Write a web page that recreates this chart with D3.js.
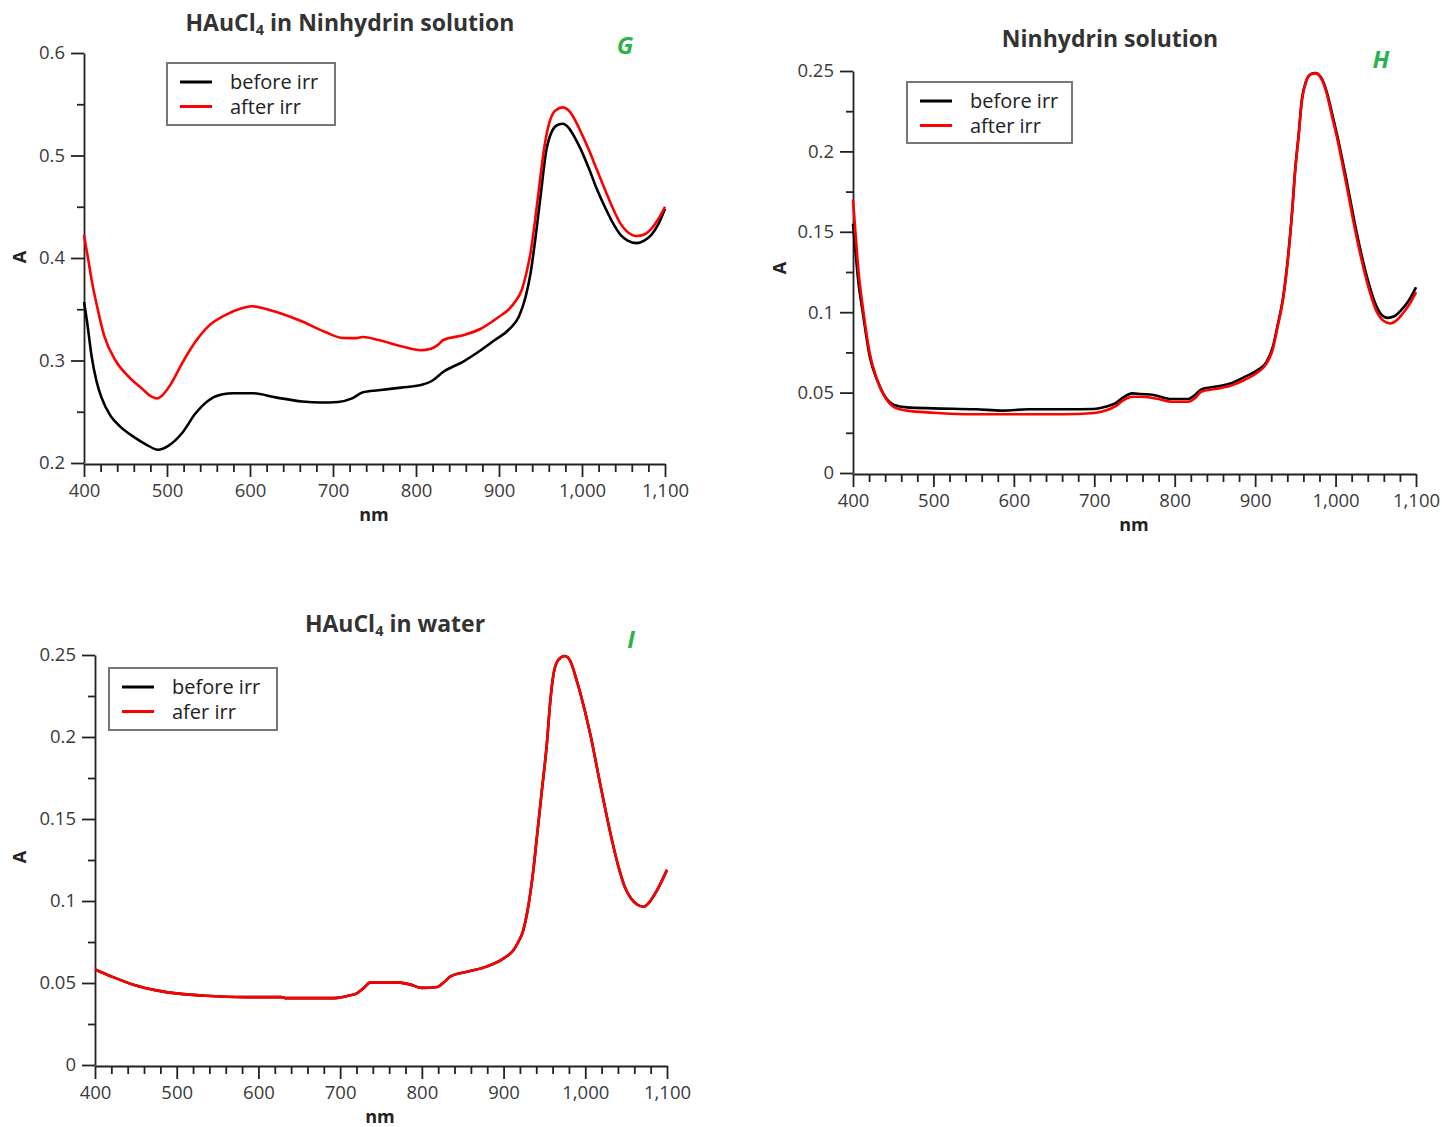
<!DOCTYPE html>
<html>
<head>
<meta charset="utf-8">
<script src="https://cdn.jsdelivr.net/npm/d3@7"></script>
<style>
  html, body { margin: 0; padding: 0; background: #fff; }
  svg { display: block; font-family: "Open Sans", "Noto Sans", sans-serif; }
  .tick text { fill: #3a3a3a; }
</style>
</head>
<body>
<svg id="chart" width="1442" height="1127"></svg>
<script>
// Absorbance spectra, [wavelength nm, absorbance A]

// G: HAuCl4 in ninhydrin solution
const ninAuBefore = [
  [400,0.357],[404,0.336],[409,0.305],[415,0.280],[421,0.264],[432,0.246],[443,0.236],[459,0.226],
  [475,0.218],[489,0.213],[502,0.217],[518,0.229],[534,0.248],[550,0.261],[567,0.267],
  [580,0.268],[604,0.268],[631,0.264],[663,0.260],[685,0.259],[706,0.2595],[723,0.263],
  [736,0.269],[755,0.271],[782,0.2735],[806,0.276],[819,0.280],[833,0.289],[857,0.299],
  [878,0.310],[895,0.320],[913,0.331],[924,0.343],[932,0.362],[938,0.385],[944,0.420],
  [950,0.460],[957,0.505],[964,0.524],[971,0.530],[977,0.531],[984,0.527],[991,0.518],
  [998,0.507],[1008,0.488],[1018,0.467],[1028,0.449],[1038,0.433],[1047,0.422],
  [1055,0.417],[1066,0.4145],[1075,0.417],[1083,0.422],[1092,0.433],[1100,0.448]
];
const ninAuAfter = [
  [400,0.4225],[405,0.399],[410,0.375],[416,0.352],[424,0.325],[438,0.300],[454,0.284],[470,0.2725],
  [482,0.2645],[488,0.263],[493,0.265],[505,0.2775],[518,0.297],[534,0.318],[550,0.3335],
  [572,0.345],[590,0.351],[602,0.353],[616,0.351],[631,0.3475],[663,0.338],[690,0.328],
  [712,0.322],[728,0.3218],[736,0.323],[755,0.320],[782,0.314],[806,0.310],[818,0.3115],
  [826,0.315],[833,0.320],[857,0.3247],[878,0.331],[900,0.3427],[912,0.350],[920,0.358],
  [927,0.368],[932,0.382],[938,0.405],[944,0.440],[950,0.480],[955,0.510],[961,0.533],
  [968,0.544],[977,0.547],[985,0.543],[992,0.534],[998,0.524],[1008,0.506],[1018,0.486],
  [1028,0.466],[1038,0.447],[1046,0.434],[1054,0.426],[1066,0.4215],[1075,0.423],
  [1083,0.428],[1092,0.438],[1100,0.450]
];

// H: ninhydrin solution
const ninBefore = [
  [400,0.155],[403,0.138],[406,0.122],[413,0.097],[421,0.072],[430,0.0578],[440,0.0474],
  [451,0.0423],[467,0.0408],[500,0.0402],[553,0.0396],[586,0.0388],[618,0.0396],
  [661,0.0396],[699,0.0398],[715,0.0413],[726,0.0433],[737,0.0474],[747,0.0495],
  [758,0.0491],[774,0.0485],[796,0.046],[817,0.046],[825,0.0485],[833,0.052],[850,0.0536],
  [871,0.056],[887,0.0598],[903,0.064],[914,0.069],[922,0.0784],[928,0.092],[935,0.110],
  [941,0.135],[946,0.163],[950,0.190],[954,0.210],[958,0.232],[963,0.243],[969,0.248],
  [975,0.2488],[982,0.246],[989,0.237],[995,0.225],[1002,0.210],[1014,0.181],
  [1026,0.150],[1039,0.122],[1051,0.1035],[1058,0.098],[1065,0.0965],[1073,0.0975],
  [1081,0.101],[1090,0.1065],[1100,0.1155]
];
const ninAfter = [
  [400,0.170],[403,0.150],[406,0.130],[413,0.100],[421,0.074],[430,0.058],[440,0.047],
  [451,0.041],[467,0.0388],[500,0.0375],[550,0.0365],[600,0.0365],[660,0.0365],
  [700,0.0373],[715,0.039],[726,0.0415],[737,0.0455],[747,0.0474],[760,0.0474],
  [780,0.046],[796,0.0443],[817,0.0443],[825,0.0465],[833,0.0505],[850,0.0522],
  [871,0.0545],[887,0.058],[903,0.0625],[914,0.068],[922,0.077],[928,0.091],[935,0.109],
  [941,0.134],[946,0.162],[950,0.189],[954,0.209],[958,0.231],[963,0.243],[969,0.2478],
  [975,0.2485],[982,0.2455],[989,0.236],[995,0.223],[1002,0.208],[1014,0.178],
  [1026,0.147],[1039,0.119],[1051,0.1005],[1060,0.0945],[1068,0.093],[1076,0.095],
  [1084,0.0995],[1092,0.105],[1100,0.1125]
];

// I: HAuCl4 in water (both spectra coincide)
const waterAfter = [
  [400,0.0582],[420,0.054],[447,0.049],[475,0.0455],[502,0.0435],[535,0.0422],
  [584,0.0414],[628,0.0414],[633,0.0408],[693,0.0408],[710,0.0422],[721,0.0439],
  [729,0.047],[737,0.0504],[770,0.0504],[786,0.049],[800,0.047],[819,0.0476],
  [827,0.0504],[835,0.054],[857,0.057],[879,0.060],[901,0.0653],[912,0.070],[918,0.075],
  [924,0.082],[930,0.096],[936,0.117],[941,0.140],[947,0.168],[953,0.196],[957,0.221],
  [961,0.238],[967,0.247],[975,0.2494],[982,0.246],[988,0.237],[994,0.2266],[1006,0.202],
  [1018,0.172],[1030,0.143],[1040,0.122],[1048,0.109],[1056,0.1015],[1063,0.098],
  [1071,0.0965],[1078,0.099],[1088,0.1067],[1100,0.119]
];
const waterBefore = waterAfter;

const xMajorTicks = d3.range(400, 1101, 100);
const xMinorTicks = d3.range(400, 1101, 20).filter(v => v % 100 !== 0);
const yTicksG = [0.2, 0.3, 0.4, 0.5, 0.6];
const yMinorG = [0.25, 0.35, 0.45, 0.55];
const yTicksHI = [0, 0.05, 0.1, 0.15, 0.2, 0.25];
const yMinorHI = [0.025, 0.075, 0.125, 0.175, 0.225];

const svg = d3.select("#chart");

function panel(cfg) {
  const x = d3.scaleLinear().domain([400, 1100]).range([cfg.x0, cfg.x1]);
  const y = d3.scaleLinear().domain(cfg.yDomain).range([cfg.y0, cfg.y1]);
  const g = svg.append("g");

  // y axis
  const yAxis = g.append("g").attr("transform", `translate(${cfg.x0},0)`);
  yAxis.call(d3.axisLeft(y).tickValues(cfg.yTicks).tickSize(13).tickSizeOuter(0)
    .tickPadding(6).tickFormat(d3.format("")));
  yAxis.append("g").call(d3.axisLeft(y).tickValues(cfg.yMinor).tickSize(7).tickFormat(""))
    .select(".domain").remove();

  // x axis
  const xAxis = g.append("g").attr("transform", `translate(0,${cfg.y0 + 1})`);
  xAxis.call(d3.axisBottom(x).tickValues(xMajorTicks).tickSize(13).tickSizeOuter(0)
    .tickPadding(7).tickFormat(d3.format(",")));
  xAxis.append("g").call(d3.axisBottom(x).tickValues(xMinorTicks).tickSize(8).tickFormat(""))
    .select(".domain").remove();

  g.selectAll(".domain, .tick line").attr("stroke", "#222").attr("stroke-width", 1.8);
  g.selectAll(".tick text").attr("font-size", 18.5).attr("fill", "#3a3a3a")
    .attr("font-family", "'Open Sans', 'Noto Sans', sans-serif");

  // spectra
  const line = d3.line().x(d => x(d[0])).y(d => y(d[1])).curve(d3.curveMonotoneX);
  cfg.series.forEach(s => {
    g.append("path").datum(s.data).attr("d", line)
      .attr("fill", "none").attr("stroke", s.color).attr("stroke-width", 2.6)
      .attr("stroke-linejoin", "round");
  });

  // title
  const t = g.append("text").attr("x", cfg.titleX).attr("y", cfg.titleY)
    .attr("text-anchor", "middle").attr("font-size", 23).attr("font-weight", "bold")
    .attr("fill", "#333");
  cfg.title.forEach(part => {
    const ts = t.append("tspan").text(part.text);
    if (part.sub) ts.attr("font-size", 14.5).attr("dy", 4);
    else if (part.after) ts.attr("dy", -4);
  });

  // panel letter
  g.append("text").attr("x", cfg.letterX).attr("y", cfg.letterY)
    .attr("font-size", 24).attr("font-weight", "bold").attr("font-style", "italic")
    .attr("fill", "#2bb24c").attr("text-anchor", "middle").text(cfg.letter);

  // axis titles
  g.append("text").attr("transform", `translate(${cfg.aX},${cfg.aY}) rotate(-90)`)
    .attr("text-anchor", "middle").attr("dy", "0.35em").attr("font-size", 18)
    .attr("font-weight", "bold").attr("fill", "#222").text("A");
  g.append("text").attr("x", cfg.nmX).attr("y", cfg.nmY).attr("text-anchor", "middle")
    .attr("dy", "0.35em").attr("font-size", 18).attr("font-weight", "bold")
    .attr("fill", "#222").text("nm");

  // legend
  const L = cfg.legend;
  const lg = g.append("g").attr("transform", `translate(${L.x},${L.y})`);
  lg.append("rect").attr("width", L.w).attr("height", L.h).attr("fill", "#fff")
    .attr("stroke", "#777").attr("stroke-width", 2);
  L.items.forEach((it, i) => {
    const yy = 19 + i * 24.5;
    lg.append("line").attr("x1", 13).attr("x2", 45).attr("y1", yy).attr("y2", yy)
      .attr("stroke", it.color).attr("stroke-width", 3);
    lg.append("text").attr("x", 63).attr("y", yy).attr("dy", "0.35em")
      .attr("font-size", 20).attr("fill", "#222").text(it.label);
  });
}

panel({
  x0: 84, x1: 665, y0: 463, y1: 53, yDomain: [0.2, 0.6],
  yTicks: yTicksG, yMinor: yMinorG,
  series: [{data: ninAuBefore, color: "#000"}, {data: ninAuAfter, color: "#f00"}],
  title: [{text: "HAuCl"}, {text: "4", sub: true}, {text: " in Ninhydrin solution", after: true}],
  titleX: 350, titleY: 31, letter: "G", letterX: 625, letterY: 54,
  aX: 20, aY: 257, nmX: 374, nmY: 515,
  legend: {x: 167, y: 63, w: 168, h: 62,
    items: [{label: "before irr", color: "#000"}, {label: "after irr", color: "#f00"}]}
});

panel({
  x0: 853, x1: 1416, y0: 473, y1: 71, yDomain: [0, 0.25],
  yTicks: yTicksHI, yMinor: yMinorHI,
  series: [{data: ninBefore, color: "#000"}, {data: ninAfter, color: "#f00"}],
  title: [{text: "Ninhydrin solution"}],
  titleX: 1110, titleY: 47, letter: "H", letterX: 1381, letterY: 68,
  aX: 780, aY: 268, nmX: 1134, nmY: 525,
  legend: {x: 907, y: 82, w: 165, h: 61,
    items: [{label: "before irr", color: "#000"}, {label: "after irr", color: "#f00"}]}
});

panel({
  x0: 95, x1: 667, y0: 1065, y1: 655, yDomain: [0, 0.25],
  yTicks: yTicksHI, yMinor: yMinorHI,
  series: [{data: waterBefore, color: "#000"}, {data: waterAfter, color: "#f00"}],
  title: [{text: "HAuCl"}, {text: "4", sub: true}, {text: " in water", after: true}],
  titleX: 395, titleY: 632, letter: "I", letterX: 631, letterY: 648,
  aX: 20, aY: 857, nmX: 380, nmY: 1117,
  legend: {x: 109, y: 668, w: 168, h: 62,
    items: [{label: "before irr", color: "#000"}, {label: "afer irr", color: "#f00"}]}
});
</script>
</body>
</html>
